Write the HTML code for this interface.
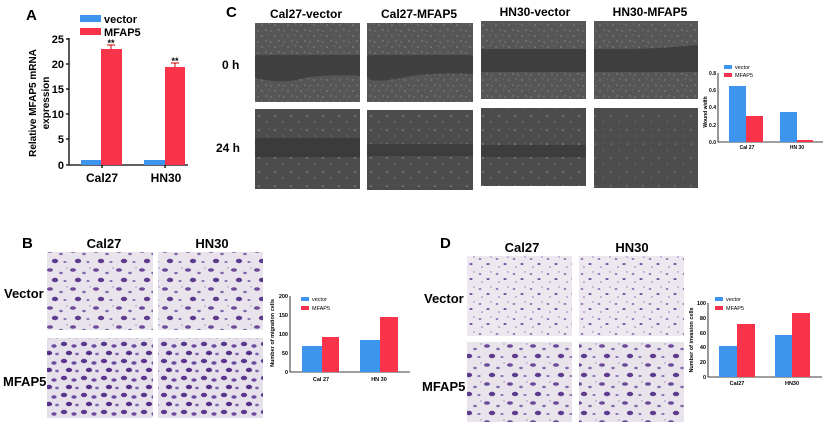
<!DOCTYPE html>
<html><head><meta charset="utf-8"><style>
html,body{margin:0;padding:0;background:#fff;}
svg{display:block;font-family:"Liberation Sans",Arial,sans-serif;}
</style></head><body>
<svg width="824" height="426" viewBox="0 0 824 426" xmlns="http://www.w3.org/2000/svg">
<defs>
<pattern id="spk" width="13" height="11" patternUnits="userSpaceOnUse">
<rect width="13" height="11" fill="#565656"/>
<circle cx="2" cy="3" r="0.8" fill="#8a8a8a"/><circle cx="9" cy="2" r="0.7" fill="#747474"/>
<circle cx="6" cy="8" r="0.9" fill="#7a7a7a"/><circle cx="11" cy="9" r="0.6" fill="#999"/>
</pattern>
<pattern id="spk2" width="16" height="14" patternUnits="userSpaceOnUse">
<rect width="16" height="14" fill="#4c4c4c"/>
<circle cx="3" cy="4" r="0.8" fill="#9a9a9a"/><circle cx="11" cy="10" r="0.7" fill="#858585"/>
<circle cx="13" cy="3" r="0.5" fill="#6e6e6e"/>
</pattern>
<pattern id="pur" width="23" height="19" patternUnits="userSpaceOnUse">
<rect width="23" height="19" fill="#e9e3ec"/>
<ellipse cx="4" cy="4" rx="3" ry="1.8" fill="#6b4a9a"/><ellipse cx="15" cy="7" rx="1.8" ry="1.2" fill="#8068ad"/>
<ellipse cx="9" cy="14" rx="3.2" ry="2.2" fill="#5d3c8e"/><ellipse cx="19" cy="15" rx="1.6" ry="1" fill="#8a70b5"/>
<circle cx="21" cy="2" r="0.7" fill="#9a85bf"/>
</pattern>
<pattern id="pur2" width="20" height="17" patternUnits="userSpaceOnUse">
<rect width="20" height="17" fill="#e6e0ea"/>
<ellipse cx="4" cy="4" rx="3.2" ry="2.2" fill="#5a3790"/><ellipse cx="14" cy="6" rx="2.6" ry="1.7" fill="#6c4a9c"/>
<ellipse cx="9" cy="13" rx="3.2" ry="2.2" fill="#553288"/><ellipse cx="17" cy="14" rx="1.8" ry="1.4" fill="#7e5fab"/>
</pattern>
<pattern id="pur3" width="17" height="15" patternUnits="userSpaceOnUse">
<rect width="17" height="15" fill="#ede8f0"/>
<ellipse cx="4" cy="4" rx="1.4" ry="0.9" fill="#7a60a8"/><ellipse cx="12" cy="9" rx="1.6" ry="1" fill="#6e52a0"/>
<circle cx="15" cy="2" r="0.7" fill="#8e78b8"/><circle cx="6" cy="12" r="0.8" fill="#8a72b5"/>
</pattern>
</defs>
<g font-weight="bold" fill="#000">
<!-- Panel A -->
<text x="26" y="20" font-size="15">A</text>
<rect x="80" y="15" width="21" height="7" fill="#3d95ee"/><text x="104" y="23" font-size="11">vector</text>
<rect x="80" y="28" width="21" height="7" fill="#f9344a"/><text x="104" y="36" font-size="11">MFAP5</text>
<g font-size="11" text-anchor="end">
<text x="64" y="43">25</text><text x="64" y="68">20</text><text x="64" y="93">15</text><text x="64" y="118">10</text><text x="64" y="143">5</text><text x="64" y="169">0</text>
</g>
<path d="M69 38V165H188M66 39H69M66 64H69M66 89H69M66 114H69M66 139H69M66 165H69M102 165V168M165 165V168" stroke="#000" stroke-width="1.3" fill="none"/>
<rect x="81" y="160" width="20" height="5" fill="#3d95ee"/><rect x="101" y="49" width="21" height="116" fill="#f9344a"/>
<rect x="144" y="160" width="21" height="5" fill="#3d95ee"/><rect x="165" y="67" width="20" height="98" fill="#f9344a"/>
<path d="M111 49V45M107 45H115M175 67V63M171 63H179" stroke="#c00" stroke-width="1"/>
<text x="111" y="46" font-size="9" text-anchor="middle">**</text><text x="175" y="64" font-size="9" text-anchor="middle">**</text>
<text x="102" y="182" font-size="12" text-anchor="middle">Cal27</text><text x="166" y="182" font-size="12" text-anchor="middle">HN30</text>
<text transform="translate(36,103) rotate(-90)" font-size="10" text-anchor="middle">Relative MFAP5 mRNA</text>
<text transform="translate(49,103) rotate(-90)" font-size="10" text-anchor="middle">expression</text>

<!-- Panel C -->
<text x="226" y="17" font-size="15">C</text>
<g font-size="12" text-anchor="middle">
<text x="306" y="18">Cal27-vector</text><text x="419" y="18">Cal27-MFAP5</text><text x="535" y="16">HN30-vector</text><text x="650" y="16">HN30-MFAP5</text>
</g>
<text x="222" y="69" font-size="12">0 h</text><text x="216" y="152" font-size="12">24 h</text>
</g>
<g>
<rect x="255" y="23" width="105" height="79" fill="url(#spk)"/><path d="M255 55H360V76Q320 74 300 79T255 78Z" fill="#404040"/>
<rect x="367" y="23" width="106" height="79" fill="url(#spk)"/><path d="M367 55H473V74Q430 72 400 78T367 77Z" fill="#404040"/>
<rect x="481" y="21" width="105" height="78" fill="url(#spk)"/><rect x="481" y="49" width="105" height="23" fill="#3e3e3e"/>
<rect x="594" y="21" width="104" height="78" fill="url(#spk)"/><path d="M594 49Q650 50 698 45V72H594Z" fill="#3e3e3e"/>
<rect x="255" y="109" width="105" height="80" fill="url(#spk2)"/><rect x="255" y="138" width="105" height="19" fill="#3b3b3b"/>
<rect x="367" y="110" width="106" height="80" fill="url(#spk2)"/><rect x="367" y="144" width="106" height="12" fill="#3d3d3d"/>
<rect x="481" y="108" width="105" height="78" fill="url(#spk2)"/><rect x="481" y="145" width="105" height="12" fill="#3d3d3d"/>
<rect x="594" y="108" width="104" height="80" fill="#4f4f4f"/><rect x="594" y="108" width="104" height="80" fill="url(#spk2)" opacity="0.6"/>
</g>
<g>
<rect x="724" y="65" width="8" height="4" fill="#3d95ee"/><text x="735" y="69" font-size="5.5">vector</text>
<rect x="724" y="73" width="8" height="4" fill="#f9344a"/><text x="735" y="77" font-size="5.5">MFAP5</text>
<path d="M718 73V142H823" stroke="#000" stroke-width="0.8" fill="none"/>
<g font-size="5" text-anchor="end" font-weight="bold"><text x="716" y="75">0.8</text><text x="716" y="92">0.6</text><text x="716" y="109">0.4</text><text x="716" y="127">0.2</text><text x="716" y="144">0.0</text></g>
<rect x="729" y="86" width="17" height="56" fill="#3d95ee"/><rect x="746" y="116" width="17" height="26" fill="#f9344a"/>
<rect x="780" y="112" width="17" height="30" fill="#3d95ee"/><rect x="797" y="140" width="16" height="2" fill="#f9344a"/>
<text transform="translate(707,112) rotate(-90)" font-size="5" text-anchor="middle" font-weight="bold">Wound width</text>
<g font-size="5" font-weight="bold" text-anchor="middle"><text x="747" y="149">Cal 27</text><text x="797" y="149">HN 30</text></g>
</g>

<!-- Panel B -->
<g font-weight="bold">
<text x="22" y="248" font-size="15">B</text>
<text x="104" y="248" font-size="13" text-anchor="middle">Cal27</text><text x="212" y="248" font-size="13" text-anchor="middle">HN30</text>
<text x="4" y="298" font-size="13">Vector</text><text x="3" y="386" font-size="13">MFAP5</text>
</g>
<rect x="47" y="252" width="106" height="78" fill="url(#pur)"/>
<rect x="158" y="252" width="105" height="78" fill="url(#pur)"/>
<rect x="47" y="338" width="106" height="80" fill="url(#pur2)"/>
<rect x="158" y="338" width="105" height="80" fill="url(#pur2)"/>
<rect x="301" y="297" width="8" height="4" fill="#3d95ee"/><text x="312" y="301" font-size="5.5">vector</text>
<rect x="301" y="306" width="8" height="4" fill="#f9344a"/><text x="312" y="310" font-size="5.5">MFAP5</text>
<path d="M290 296V372H410" stroke="#000" stroke-width="0.8" fill="none"/>
<g font-size="5.5" text-anchor="end" font-weight="bold"><text x="288" y="298">200</text><text x="288" y="317">150</text><text x="288" y="336">100</text><text x="288" y="355">50</text><text x="288" y="374">0</text></g>
<rect x="302" y="346" width="20" height="26" fill="#3d95ee"/><rect x="322" y="337" width="17" height="35" fill="#f9344a"/>
<rect x="360" y="340" width="20" height="32" fill="#3d95ee"/><rect x="380" y="317" width="18" height="55" fill="#f9344a"/>
<text transform="translate(274,333) rotate(-90)" font-size="5.5" text-anchor="middle" font-weight="bold">Number of migration cells</text>
<g font-size="5.5" font-weight="bold" text-anchor="middle"><text x="321" y="381">Cal 27</text><text x="379" y="381">HN 30</text></g>

<!-- Panel D -->
<g font-weight="bold">
<text x="440" y="248" font-size="15">D</text>
<text x="522" y="252" font-size="13" text-anchor="middle">Cal27</text><text x="632" y="252" font-size="13" text-anchor="middle">HN30</text>
<text x="424" y="303" font-size="13">Vector</text><text x="422" y="391" font-size="13">MFAP5</text>
</g>
<rect x="467" y="256" width="105" height="80" fill="url(#pur3)"/>
<rect x="579" y="256" width="105" height="80" fill="url(#pur3)"/>
<rect x="467" y="342" width="105" height="80" fill="url(#pur)"/>
<rect x="579" y="342" width="105" height="80" fill="url(#pur)"/>
<rect x="715" y="297" width="8" height="4" fill="#3d95ee"/><text x="726" y="301" font-size="5.5">vector</text>
<rect x="715" y="306" width="8" height="4" fill="#f9344a"/><text x="726" y="310" font-size="5.5">MFAP5</text>
<path d="M708 303V377H822" stroke="#000" stroke-width="0.8" fill="none"/>
<g font-size="5.5" text-anchor="end" font-weight="bold"><text x="706" y="305">100</text><text x="706" y="320">80</text><text x="706" y="335">60</text><text x="706" y="349">40</text><text x="706" y="364">20</text><text x="706" y="379">0</text></g>
<rect x="719" y="346" width="18" height="31" fill="#3d95ee"/><rect x="737" y="324" width="18" height="53" fill="#f9344a"/>
<rect x="775" y="335" width="17" height="42" fill="#3d95ee"/><rect x="792" y="313" width="18" height="64" fill="#f9344a"/>
<text transform="translate(693,340) rotate(-90)" font-size="5.5" text-anchor="middle" font-weight="bold">Number of invasion cells</text>
<g font-size="5.5" font-weight="bold" text-anchor="middle"><text x="737" y="385">Cal27</text><text x="792" y="385">HN30</text></g>
</svg>
</body></html>
